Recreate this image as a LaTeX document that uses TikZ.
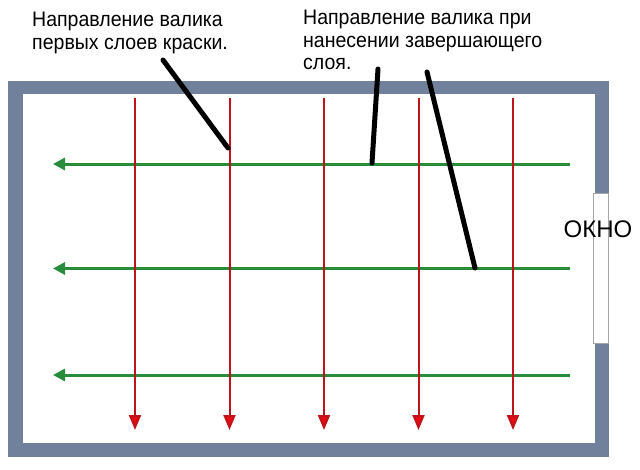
\documentclass[tikz,border=0pt]{standalone}
\usepackage{fontspec}
\setmainfont{Liberation Sans}
\newfontfamily\notefont[FakeStretch=0.93]{Liberation Sans}
\usetikzlibrary{arrows.meta}

\definecolor{wallgray}{RGB}{114,129,155}
\definecolor{rollred}{RGB}{190,20,25}
\definecolor{tipred}{RGB}{235,10,15}
\definecolor{rollgreen}{RGB}{40,140,60}

\begin{document}
\begin{tikzpicture}[
        x=1pt, y=-1pt,
        wall/.style={fill=wallgray, draw=none},
        firstcoat/.style={draw=rollred, line width=2pt, -{Triangle[length=15pt, width=12pt, fill=tipred]}},
        lastcoat/.style={draw=rollgreen, line width=3pt, -{Triangle[length=12pt, width=12pt]}},
        pointer/.style={draw=black, line width=5pt, line cap=round},
        note/.style={align=left, inner sep=0pt, anchor=north west, font=\notefont\fontsize{21}{22.5}\selectfont}
    ]
        \useasboundingbox (0,0) rectangle (640,469);

        % Room walls
        \fill[wall] (7.5,81) rectangle (609,457);
        \fill[white] (23,94) rectangle (595,443);

        % Window in the right wall
        \node[draw=gray!70, line width=1pt, fill=white, minimum width=15pt, minimum height=150pt, inner sep=0pt] (window) at (601,268) {};
        \node[font=\fontsize{24}{28}\selectfont] (windowlabel) at (598,229) {ОКНО};

        % Final coat (green, right to left)
        \foreach \y [count=\i] in {164,268.5,375} {
            \coordinate (g\i start) at (570,\y);
            \coordinate (g\i end) at (53,\y);
            \draw[lastcoat] (g\i start) -- (g\i end);
        }

        % First coats (red, top to bottom)
        \foreach \x [count=\i] in {135,229.5,324,418.5,513} {
            \coordinate (r\i start) at (\x,98);
            \coordinate (r\i end) at (\x,430);
            \draw[firstcoat] (r\i start) -- (r\i end);
        }

        % Labels
        \node[note] (firstnote) at (32,12) {Направление валика\\первых слоев краски.};
        \node[note] (lastnote) at (303,10) {Направление валика при\\нанесении завершающего\\слоя.};

        % Pointer strokes
        \coordinate (p1 top) at (163,60);
        \coordinate (p1 end) at (228,148);
        \coordinate (p2 top) at (378,69);
        \coordinate (p2 end) at (372,163);
        \coordinate (p3 top) at (427,72);
        \coordinate (p3 end) at (475,268);
        \draw[pointer] (p1 top) -- (p1 end);
        \draw[pointer] (p2 top) -- (p2 end);
        \draw[pointer] (p3 top) -- (p3 end);

    \end{tikzpicture}
\end{document}
